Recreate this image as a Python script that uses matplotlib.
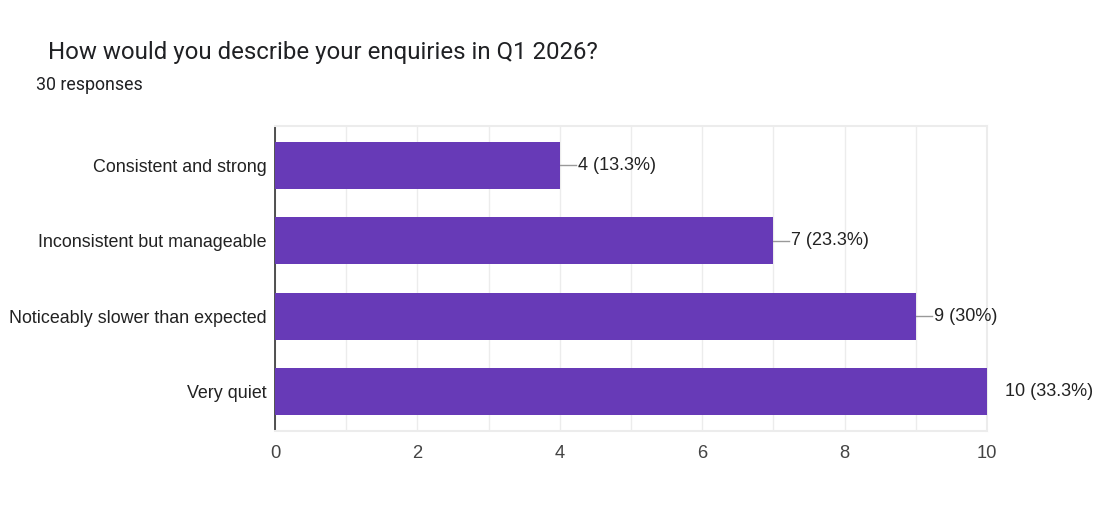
import matplotlib.pyplot as plt
from matplotlib.ticker import MultipleLocator

plt.rcParams['font.family'] = ['Liberation Sans', 'DejaVu Sans']

# data
categories = ['Consistent and strong', 'Inconsistent but manageable',
              'Noticeably slower than expected', 'Very quiet']
counts = [4, 7, 9, 10]
labels = ['4 (13.3%)', '7 (23.3%)', '9 (30%)', '10 (33.3%)']
x_ticks = [0, 2, 4, 6, 8, 10]

fig = plt.figure(figsize=(10.98, 5.22), dpi=100)
ax = fig.add_axes([0.2505, 0.1743, 0.6485, 0.5843])

ypos = list(range(len(categories)))
ax.barh(ypos, counts, height=0.62, color='#673ab7', zorder=3)

# value labels with short connector lines
for y, v, lab in zip(ypos, counts, labels):
    ax.plot([v, v + 0.22], [y, y], color='#999999', lw=1, zorder=2, clip_on=True)
    ax.annotate(lab, xy=(v, y), xytext=(18, 0), textcoords='offset pixels',
                va='center', ha='left', fontsize=13, color='#222222',
                annotation_clip=False)

ax.set_xlim(0, 10)
ax.set_ylim(3.52, -0.52)
ax.set_yticks(ypos)
ax.set_yticklabels(categories, fontsize=12.9, color='#222222')
ax.set_xticks(x_ticks)
ax.xaxis.set_minor_locator(MultipleLocator(1))
ax.tick_params(axis='x', labelsize=13.2, colors='#444444', length=0, pad=10, which='both')
ax.tick_params(axis='y', length=0, pad=6)
ax.grid(axis='x', which='both', color='#ececec', lw=1, zorder=0)

for s in ['top', 'right', 'bottom']:
    ax.spines[s].set_color('#ececec')
    ax.spines[s].set_linewidth(1.5)
ax.spines['left'].set_color('#333333')
ax.spines['left'].set_linewidth(1.2)

fig.text(48 / 1098, 1 - 53 / 522, 'How would you describe your enquiries in Q1 2026?',
         fontsize=17.3, color='#202124', va='center', ha='left', family='Roboto')
fig.text(36 / 1098, 1 - 85 / 522, '30 responses', fontsize=12.8, color='#202124',
         va='center', ha='left', family='Roboto')

plt.savefig('out.png', dpi=100)
